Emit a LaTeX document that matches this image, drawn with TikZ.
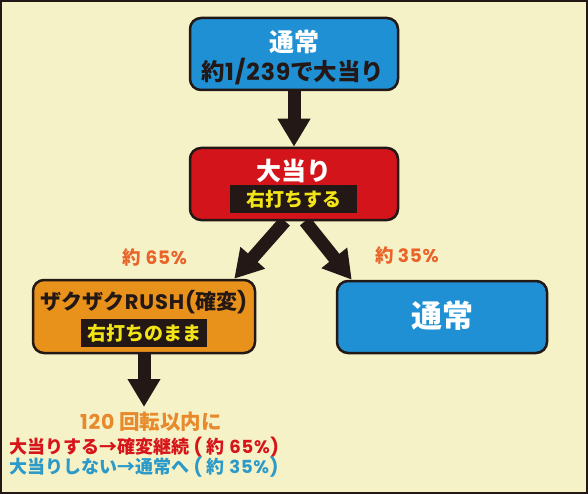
\documentclass[tikz,border=0pt]{standalone}
\usepackage{fontspec}
\usepackage{xcolor}
\usetikzlibrary{arrows.meta}
\setmainfont{Noto Sans CJK JP}
\newfontfamily\lat{Poppins}[LetterSpace=4]
\newcommand\fsz[1]{\fontsize{#1}{#1}\selectfont\bfseries}

\definecolor{bgyellow}{HTML}{F5F2C8}
\definecolor{ink}{HTML}{231815}
\definecolor{boxblue}{HTML}{1E90D3}
\definecolor{boxred}{HTML}{D3141B}
\definecolor{boxorange}{HTML}{E8921C}
\definecolor{tagyellow}{HTML}{F2E416}
\definecolor{pctorange}{HTML}{E8642A}
\definecolor{spinorange}{HTML}{E8892C}
\definecolor{textred}{HTML}{D7141A}
\definecolor{textblue}{HTML}{2C9AC8}

\pgfdeclarelayer{back}
\pgfsetlayers{back,main}

\begin{document}
\begin{tikzpicture}[x=1pt, y=-1pt,
        box/.style={draw=ink, line width=2.5pt, rounded corners=11pt, minimum width=208pt, minimum height=72pt, inner sep=0pt},
        tag/.style={fill=ink, text=tagyellow, minimum width=127pt, minimum height=28pt, inner sep=0pt, font=\fsz{19}},
        fat/.style={draw=ink, line width=13pt, -{Triangle[width=31pt, length=28pt]}},
        word/.style={inner sep=0pt}]
                \useasboundingbox (0,0) rectangle (588,494);
                \begin{pgfonlayer}{back}
                    \fill[bgyellow] (0,0) rectangle (588,494);
                \end{pgfonlayer}

                % boxes
                \node[box, fill=boxblue] (N) at (294,54) {};
                \node[word, text=white, font=\fsz{25}] (Nname) at (294,42) {通常};
                \node[word, text=ink, font=\fsz{23.5}] (Nrate) at (293,72) {約{\lat 1/239}で大当り};

                \node[box, fill=boxred] (H) at (294,184) {};
                \node[word, text=white, font=\fsz{25}] (Hname) at (294,171) {大当り};
                \node[tag] (Htag) at (293.5,199) {右打ちする};

                \node[box, fill=boxorange, minimum width=222pt, minimum height=73pt] (R) at (144,316.5) {};
                \node[word, text=ink, font=\fsz{21}] (Rname) at (144,302) {ザクザク{\lat RUSH(}確変{\lat )}};
                \node[tag, minimum width=126pt] (Rtag) at (144,333) {右打ちのまま};

                \node[box, fill=boxblue, minimum width=210pt] (T) at (442,317) {};
                \node[word, text=white, font=\fsz{31}] (Tname) at (442,316) {通常};

                % rates
                \node[word, text=pctorange, font=\fsz{18.5}] (Hl) at (155,257) {約 {\lat 65\%}};
                \node[word, text=pctorange, font=\fsz{18.5}] (Hr) at (407,255) {約 {\lat 35\%}};

                \coordinate (Rend) at (144,407);
                \node[word, text=spinorange, font=\fsz{20.5}] (S) at (151,422) {{\lat 120} 回転以内に};
                \node[word, anchor=west, text=textred, font=\fsz{18}] (Sy) at (9,447) {大当りする→確変継続{\lat\ ( }約{\lat\ 65\%)}};
                \node[word, anchor=west, text=textblue, font=\fsz{18}] (Sn) at (9,467) {大当りしない→通常へ{\lat\ ( }約{\lat\ 35\%)}};

                \begin{pgfonlayer}{back}
                    \draw[fat] (N) -- (H);
                    \draw[fat] ([xshift=-9pt]H.south) -- ([xshift=-22pt]R.north east);
                    \draw[fat] ([xshift=11pt]H.south) -- ([xshift=16pt]T.north west);
                    \draw[fat] (R) -- (Rend);
                \end{pgfonlayer}

                \draw[ink, line width=2pt] (1,1) rectangle (587,493);
            \end{tikzpicture}
\end{document}
